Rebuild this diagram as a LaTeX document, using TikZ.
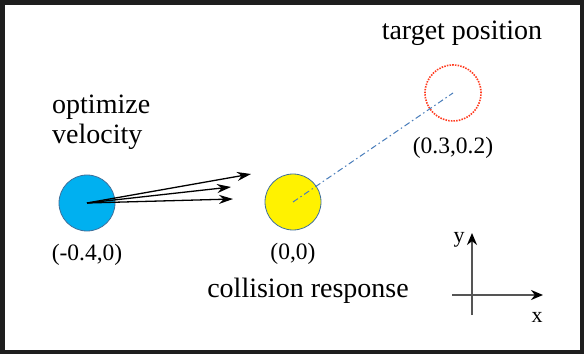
\documentclass[tikz,border=0pt]{standalone}
\usepackage{fontspec}
\setmainfont{Liberation Serif}
\usetikzlibrary{arrows.meta,positioning}
\definecolor{ballblue}{HTML}{00B0F0}
\definecolor{balledge}{HTML}{41719C}
\definecolor{targetred}{HTML}{FF3B1F}
\definecolor{pathblue}{HTML}{4A7EBB}
\definecolor{framegray}{HTML}{1E1E1E}
\definecolor{axisgray}{HTML}{555555}

\begin{document}
\begin{tikzpicture}[
  x=1pt, y=1pt,
  >=Stealth,
  every node/.style={font=\fontsize{28}{30}\selectfont, inner sep=0pt},
  ball/.style={circle, minimum size=56pt, draw=balledge, line width=0.8pt},
  coordlabel/.style={font=\fontsize{23.5}{26}\selectfont},
  axislabel/.style={font=\fontsize{22}{24}\selectfont},
  axis/.style={draw=axisgray, line width=2pt, -{Stealth[length=12pt, width=10pt, color=black]}},
  shot/.style={line width=1.3pt, -{Stealth[length=14pt, width=9pt]}},
]
\useasboundingbox (0,0) rectangle (584,354);
\fill[framegray] (0,0) rectangle (584,354);
\fill[white] (5,4) rectangle (580,349);

% bodies
\node[ball, fill=ballblue] (agent) at (87,151) {};
\node[ball, fill=yellow] (obstacle) at (293,152) {};
\node[circle, minimum size=56pt, draw=targetred, dash pattern=on 1.5pt off 1.2pt, line width=1.6pt] (target) at (453,261) {};

% labels
\node[coordlabel, below=12.5pt of agent] (agentpos) {(-0.4,0)};
\node[coordlabel, below=12.5pt of obstacle] (obstaclepos) {(0,0)};
\node[coordlabel, below=15pt of target] (targetpos) {(0.3,0.2)};
\node[anchor=base] (targetlbl) at (462,314) {target position};
\node[align=left, anchor=west] (optlbl) at (52,231.5) {optimize\\velocity};
\node[anchor=base] (colllbl) at (308,57) {collision response};

% candidate velocities
\coordinate (shot1) at (251,180);
\coordinate (shot2) at (231,167);
\coordinate (shot3) at (233,155);
\draw[shot] (agent.center) -- (shot1);
\draw[shot] (agent.center) -- (shot2);
\draw[shot] (agent.center) -- (shot3);

\draw[pathblue, line width=1pt, dash pattern=on 6pt off 3pt on 1.5pt off 3pt]
  (obstacle.center) -- (target.center);

% axes
\coordinate (ybot) at (472,39);
\coordinate (ytop) at (472,121);
\coordinate (xleft) at (452,59);
\coordinate (xright) at (543,59);
\draw[axis] (ybot) -- (ytop);
\draw[axis] (xleft) -- (xright);
\node[axislabel] (ylbl) at (459,114) {y};
\node[axislabel] (xlbl) at (537,37) {x};
\end{tikzpicture}
\end{document}
